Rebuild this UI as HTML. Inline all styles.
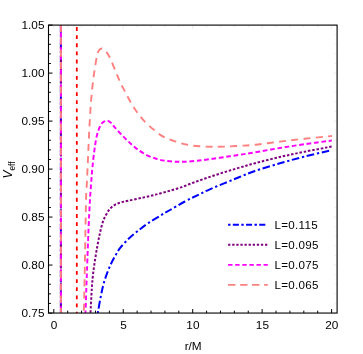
<!DOCTYPE html><html><head><meta charset="utf-8"><style>
html,body{margin:0;padding:0;background:#fff}
#p{position:relative;width:363px;height:354px;overflow:hidden;background:#fff;font-family:"Liberation Sans",sans-serif;font-size:11.8px;color:#000;line-height:14px;will-change:transform;opacity:0.999}
.t{position:absolute;white-space:nowrap}
.yl{right:318.5px;text-align:right}
.xl{transform:translateX(-50%)}
</style></head><body><div id="p">
<svg width="363" height="354" viewBox="0 0 363 354" style="position:absolute;left:0;top:0">
<defs><clipPath id="c"><rect x="48.5" y="25.1" width="288.6" height="287.95"/></clipPath></defs>
<g clip-path="url(#c)" fill="none" stroke-linecap="butt" stroke-linejoin="round">
<path d="M60.9 25.1 L60.9 313.05" stroke="#0000ff" stroke-width="2.0" stroke-dasharray="7.6 2.6 2.3 2.8"/>
<path d="M331.60 150.20 C327.12 151.25 313.32 154.32 304.70 156.50 C296.08 158.68 288.18 160.88 279.90 163.30 C271.62 165.72 261.72 168.72 255.00 171.00 C248.28 173.28 244.65 174.98 239.60 177.00 C234.55 179.02 229.67 181.05 224.70 183.10 C219.73 185.15 214.37 187.27 209.80 189.30 C205.23 191.33 201.45 193.27 197.30 195.30 C193.15 197.33 189.45 199.05 184.90 201.50 C180.35 203.95 174.02 207.68 170.00 210.00 C165.98 212.32 164.30 213.30 160.80 215.40 C157.30 217.50 152.67 220.13 149.00 222.60 C145.33 225.07 142.20 227.50 138.80 230.20 C135.40 232.90 131.70 235.85 128.60 238.80 C125.50 241.75 122.30 245.28 120.20 247.90 C118.10 250.52 117.35 252.23 116.00 254.50 C114.65 256.77 113.45 258.73 112.10 261.50 C110.75 264.27 109.32 267.38 107.90 271.10 C106.48 274.82 104.82 279.42 103.60 283.80 C102.38 288.18 101.57 292.53 100.60 297.40 C99.63 302.27 98.27 310.40 97.80 313.00" stroke="#0000ff" stroke-width="2.0" stroke-dasharray="7.6 2.6 2.3 2.8" stroke-dashoffset="12.7"/>
<path d="M60.9 25.1 L60.9 313.05" stroke="#800080" stroke-width="2.0" stroke-dasharray="2.5 1.8"/>
<path d="M331.60 146.60 C327.12 147.45 313.32 149.97 304.70 151.70 C296.08 153.43 288.18 155.08 279.90 157.00 C271.62 158.92 261.72 161.43 255.00 163.20 C248.28 164.97 244.65 166.12 239.60 167.60 C234.55 169.08 229.67 170.55 224.70 172.10 C219.73 173.65 214.78 175.23 209.80 176.90 C204.82 178.57 199.78 180.30 194.80 182.10 C189.82 183.90 184.87 186.03 179.90 187.70 C174.93 189.37 169.63 190.80 165.00 192.10 C160.37 193.40 156.33 194.47 152.10 195.50 C147.87 196.53 143.62 197.42 139.60 198.30 C135.58 199.18 131.10 200.12 128.00 200.80 C124.90 201.48 123.13 201.77 121.00 202.40 C118.87 203.03 117.07 203.50 115.20 204.60 C113.33 205.70 111.32 207.32 109.80 209.00 C108.28 210.68 107.27 212.52 106.10 214.70 C104.93 216.88 103.83 219.00 102.80 222.10 C101.77 225.20 100.80 229.35 99.90 233.30 C99.00 237.25 98.23 241.23 97.40 245.80 C96.57 250.37 95.65 255.73 94.90 260.70 C94.15 265.67 93.42 270.88 92.90 275.60 C92.38 280.32 92.20 282.77 91.80 289.00 C91.40 295.23 90.72 309.00 90.50 313.00" stroke="#800080" stroke-width="2.0" stroke-dasharray="2.5 1.8" stroke-dashoffset="0"/>
<path d="M60.9 25.1 L60.9 313.05" stroke="#ff00ff" stroke-width="1.95" stroke-dasharray="4.7 2.7"/>
<path d="M331.80 140.50 C327.28 141.12 313.35 142.95 304.70 144.20 C296.05 145.45 288.18 146.65 279.90 148.00 C271.62 149.35 261.72 151.17 255.00 152.30 C248.28 153.43 244.65 154.02 239.60 154.80 C234.55 155.58 229.67 156.27 224.70 157.00 C219.73 157.73 214.37 158.58 209.80 159.20 C205.23 159.82 201.45 160.28 197.30 160.70 C193.15 161.12 188.63 161.53 184.90 161.70 C181.17 161.87 178.22 161.87 174.90 161.70 C171.58 161.53 167.98 161.15 165.00 160.70 C162.02 160.25 159.98 159.90 157.00 159.00 C154.02 158.10 150.40 156.95 147.10 155.30 C143.80 153.65 140.10 151.18 137.20 149.10 C134.30 147.02 132.20 145.08 129.70 142.80 C127.20 140.52 124.68 137.97 122.20 135.40 C119.72 132.83 116.73 129.57 114.80 127.40 C112.87 125.23 111.90 123.53 110.60 122.40 C109.30 121.27 108.20 120.67 107.00 120.60 C105.80 120.53 104.50 121.17 103.40 122.00 C102.30 122.83 101.48 123.37 100.40 125.60 C99.32 127.83 97.90 131.28 96.90 135.40 C95.90 139.52 95.15 144.92 94.40 150.30 C93.65 155.68 92.93 162.32 92.40 167.70 C91.87 173.08 91.62 177.05 91.20 182.60 C90.78 188.15 90.35 193.10 89.90 201.00 C89.45 208.90 88.98 218.50 88.50 230.00 C88.02 241.50 87.37 260.17 87.00 270.00 C86.63 279.83 86.55 281.83 86.30 289.00 C86.05 296.17 85.63 309.00 85.50 313.00" stroke="#ff00ff" stroke-width="1.95" stroke-dasharray="4.7 2.7" stroke-dashoffset="1.5"/>
<path d="M60.9 25.1 L60.9 313.05" stroke="#ff8080" stroke-width="1.9" stroke-dasharray="7.0 5.3"/>
<path d="M332.00 136.00 C327.45 136.45 313.38 137.77 304.70 138.70 C296.02 139.63 288.18 140.58 279.90 141.60 C271.62 142.62 261.72 144.10 255.00 144.80 C248.28 145.50 244.65 145.50 239.60 145.80 C234.55 146.10 229.27 146.43 224.70 146.60 C220.13 146.77 216.35 146.85 212.20 146.80 C208.05 146.75 203.93 146.63 199.80 146.30 C195.67 145.97 191.52 145.62 187.40 144.80 C183.28 143.98 179.13 142.77 175.10 141.40 C171.07 140.03 166.73 138.53 163.20 136.60 C159.67 134.67 157.00 132.33 153.90 129.80 C150.80 127.27 147.43 124.37 144.60 121.40 C141.77 118.43 139.17 115.12 136.90 112.00 C134.63 108.88 132.97 106.08 131.00 102.70 C129.03 99.32 126.88 95.08 125.10 91.70 C123.32 88.32 121.93 85.93 120.30 82.40 C118.67 78.87 117.10 74.73 115.30 70.50 C113.50 66.27 111.18 60.32 109.50 57.00 C107.82 53.68 106.50 52.02 105.20 50.60 C103.90 49.18 102.78 48.48 101.70 48.50 C100.62 48.52 99.52 49.30 98.70 50.70 C97.88 52.10 97.45 53.88 96.80 56.90 C96.15 59.92 95.42 64.83 94.80 68.80 C94.18 72.77 93.65 76.18 93.10 80.70 C92.55 85.22 91.95 91.02 91.50 95.90 C91.05 100.78 90.83 103.00 90.40 110.00 C89.97 117.00 89.33 129.12 88.90 137.90 C88.47 146.68 88.18 154.42 87.80 162.70 C87.42 170.98 86.90 181.22 86.60 187.60 C86.30 193.98 86.37 184.10 86.00 201.00 C85.63 217.90 84.77 270.33 84.40 289.00 C84.03 307.67 83.90 309.00 83.80 313.00" stroke="#ff8080" stroke-width="1.9" stroke-dasharray="7.0 5.3" stroke-dashoffset="3.0"/>
<path d="M76.8 27.1 L76.8 313.05" stroke="#ff0000" stroke-width="1.8" stroke-dasharray="3.85 4.28"/>
</g>
<rect x="48.5" y="25.1" width="288.6" height="287.95" fill="none" stroke="#000" stroke-width="1.1"/>
<path d="M48.5 313.05 h4.0 M48.5 303.45 h2.4 M48.5 293.85 h2.4 M48.5 284.26 h2.4 M48.5 274.66 h2.4 M48.5 265.06 h4.0 M48.5 255.46 h2.4 M48.5 245.86 h2.4 M48.5 236.26 h2.4 M48.5 226.67 h2.4 M48.5 217.07 h4.0 M48.5 207.47 h2.4 M48.5 197.87 h2.4 M48.5 188.27 h2.4 M48.5 178.67 h2.4 M48.5 169.08 h4.0 M48.5 159.48 h2.4 M48.5 149.88 h2.4 M48.5 140.28 h2.4 M48.5 130.68 h2.4 M48.5 121.08 h4.0 M48.5 111.49 h2.4 M48.5 101.89 h2.4 M48.5 92.29 h2.4 M48.5 82.69 h2.4 M48.5 73.09 h4.0 M48.5 63.49 h2.4 M48.5 53.90 h2.4 M48.5 44.30 h2.4 M48.5 34.70 h2.4 M48.5 25.10 h4.0 M53.80 313.05 v-4.0 M67.69 313.05 v-2.4 M81.58 313.05 v-2.4 M95.47 313.05 v-2.4 M109.36 313.05 v-2.4 M123.25 313.05 v-4.0 M137.14 313.05 v-2.4 M151.03 313.05 v-2.4 M164.92 313.05 v-2.4 M178.81 313.05 v-2.4 M192.70 313.05 v-4.0 M206.59 313.05 v-2.4 M220.48 313.05 v-2.4 M234.37 313.05 v-2.4 M248.26 313.05 v-2.4 M262.15 313.05 v-4.0 M276.04 313.05 v-2.4 M289.93 313.05 v-2.4 M303.82 313.05 v-2.4 M317.71 313.05 v-2.4 M331.60 313.05 v-4.0" stroke="#000" stroke-width="1" fill="none"/>
<path d="M337.1 313.05 h-4.0 M337.1 303.45 h-2.4 M337.1 293.85 h-2.4 M337.1 284.26 h-2.4 M337.1 274.66 h-2.4 M337.1 265.06 h-4.0 M337.1 255.46 h-2.4 M337.1 245.86 h-2.4 M337.1 236.26 h-2.4 M337.1 226.67 h-2.4 M337.1 217.07 h-4.0 M337.1 207.47 h-2.4 M337.1 197.87 h-2.4 M337.1 188.27 h-2.4 M337.1 178.67 h-2.4 M337.1 169.08 h-4.0 M337.1 159.48 h-2.4 M337.1 149.88 h-2.4 M337.1 140.28 h-2.4 M337.1 130.68 h-2.4 M337.1 121.08 h-4.0 M337.1 111.49 h-2.4 M337.1 101.89 h-2.4 M337.1 92.29 h-2.4 M337.1 82.69 h-2.4 M337.1 73.09 h-4.0 M337.1 63.49 h-2.4 M337.1 53.90 h-2.4 M337.1 44.30 h-2.4 M337.1 34.70 h-2.4 M337.1 25.10 h-4.0 M53.80 25.1 v4.0 M67.69 25.1 v2.4 M81.58 25.1 v2.4 M95.47 25.1 v2.4 M109.36 25.1 v2.4 M123.25 25.1 v4.0 M137.14 25.1 v2.4 M151.03 25.1 v2.4 M164.92 25.1 v2.4 M178.81 25.1 v2.4 M192.70 25.1 v4.0 M206.59 25.1 v2.4 M220.48 25.1 v2.4 M234.37 25.1 v2.4 M248.26 25.1 v2.4 M262.15 25.1 v4.0 M276.04 25.1 v2.4 M289.93 25.1 v2.4 M303.82 25.1 v2.4 M317.71 25.1 v2.4 M331.60 25.1 v4.0" stroke="#000" stroke-opacity="0.12" stroke-width="0.6" fill="none"/>
<path d="M228.1 224.7 H266.0" stroke="#0000ff" stroke-width="1.9" stroke-dasharray="2.4 2.3 6.1 2.4" fill="none"/>
<path d="M228.1 244.7 H267.8" stroke="#800080" stroke-width="1.9" stroke-dasharray="2.3 1.8" fill="none"/>
<path d="M228.1 264.9 H267.8" stroke="#ff00ff" stroke-width="1.9" stroke-dasharray="4.4 2.7" fill="none"/>
<path d="M228.1 284.9 H267.8" stroke="#ff8080" stroke-width="1.9" stroke-dasharray="7.3 4.7" fill="none"/>
</svg>
<div class="t yl" style="top:18.2px">1.05</div>
<div class="t yl" style="top:66.2px">1.00</div>
<div class="t yl" style="top:114.2px">0.95</div>
<div class="t yl" style="top:162.2px">0.90</div>
<div class="t yl" style="top:210.2px">0.85</div>
<div class="t yl" style="top:258.2px">0.80</div>
<div class="t yl" style="top:306.2px">0.75</div>
<div class="t xl" style="left:54.0px;top:317.5px">0</div>
<div class="t xl" style="left:123.5px;top:317.5px">5</div>
<div class="t xl" style="left:192.9px;top:317.5px">10</div>
<div class="t xl" style="left:262.4px;top:317.5px">15</div>
<div class="t xl" style="left:331.8px;top:317.5px">20</div>
<div class="t xl" style="left:193.2px;top:338.5px">r/M</div>
<div class="t" style="left:274.5px;top:217.6px;font-size:11.6px;letter-spacing:0.3px">L=0.115</div>
<div class="t" style="left:274.5px;top:237.6px;font-size:11.6px;letter-spacing:0.3px">L=0.095</div>
<div class="t" style="left:274.5px;top:257.8px;font-size:11.6px;letter-spacing:0.3px">L=0.075</div>
<div class="t" style="left:274.5px;top:277.8px;font-size:11.6px;letter-spacing:0.3px">L=0.065</div>
<div class="t" style="left:9.3px;top:169.7px;transform:translate(-50%,-50%) rotate(-90deg);font-size:12px"><i>V</i><span style="font-size:8.2px;position:relative;top:2.6px">eff</span></div>
</div></body></html>
